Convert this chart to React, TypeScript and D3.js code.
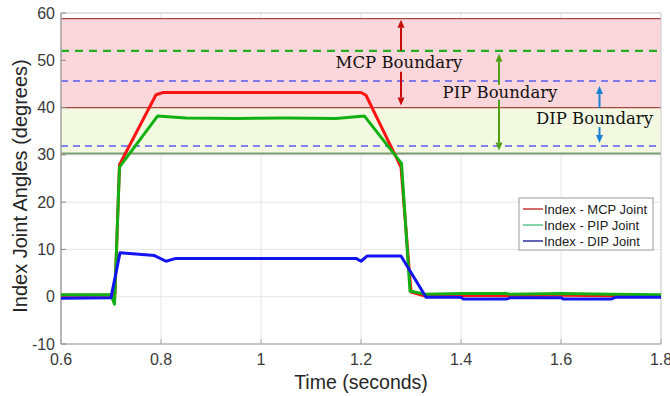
import React from "react";
import * as d3 from "d3";

// series
const mcpTime = [0.6, 0.7, 0.708, 0.717, 0.79, 0.805, 1.0, 1.2, 1.21, 1.28, 1.3, 1.33, 1.4, 1.5, 1.6, 1.7, 1.8];
const mcpAngle = [0.3, 0.3, 0.6, 27.9, 42.7, 43.2, 43.2, 43.2, 42.6, 27.4, 1.0, 0.1, 0.3, 0.2, 0.3, 0.2, 0.2];

const pipTime = [0.6, 0.7, 0.707, 0.717, 0.793, 0.85, 0.95, 1.05, 1.15, 1.207, 1.281, 1.298, 1.33, 1.4, 1.49, 1.5, 1.6, 1.7, 1.8];
const pipAngle = [0.4, 0.4, -1.6, 27.4, 38.2, 37.8, 37.7, 37.8, 37.7, 38.2, 28.2, 1.2, 0.5, 0.7, 0.7, 0.5, 0.7, 0.5, 0.4];

const dipTime = [0.6, 0.7, 0.718, 0.787, 0.81, 0.83, 1.19, 1.2, 1.212, 1.28, 1.33, 1.4, 1.405, 1.49, 1.5, 1.6, 1.605, 1.7, 1.71, 1.8];
const dipAngle = [-0.3, -0.2, 9.3, 8.7, 7.5, 8.1, 8.1, 7.5, 8.6, 8.6, -0.1, -0.1, -0.5, -0.5, -0.2, -0.2, -0.5, -0.5, -0.1, -0.1];

const xTicks = [0.6, 0.8, 1, 1.2, 1.4, 1.6, 1.8];
const yTicks = [-10, 0, 10, 20, 30, 40, 50, 60];

// boundaries [low, high] in degrees
const mcpBoundary = [40, 58.8];
const pipBoundary = [30.3, 52];
const dipBoundary = [31.85, 45.6];
// where the boundary arrows sit (seconds)
const arrowTimes = [1.28, 1.476, 1.677];

const legendNames = ["Index - MCP Joint", "Index - PIP Joint", "Index - DIP Joint"];
const legendColors = ["#c43a3a", "#5cc48c", "#2f2f9a"];

const W = 670;
const H = 396;
const margin = { left: 61, right: 9, top: 13, bottom: 52 };

function Arrow({ x, y1, y2, color }: { x: number; y1: number; y2: number; color: string }) {
  // y1 -> line start, y2 -> tip
  const dir = y2 > y1 ? 1 : -1;
  const head = 8;
  return (
    <g>
      <line x1={x} x2={x} y1={y1} y2={y2 - dir * head} stroke={color} strokeWidth={2} />
      <path
        d={`M${x},${y2} L${x - 3.5},${y2 - dir * head} L${x + 3.5},${y2 - dir * head} Z`}
        fill={color}
      />
    </g>
  );
}

export default function App() {
  const x = d3.scaleLinear().domain([0.6, 1.8]).range([margin.left, W - margin.right]);
  const y = d3.scaleLinear().domain([-10, 60]).range([H - margin.bottom, margin.top]);

  const line = d3
    .line<[number, number]>()
    .x((d) => x(d[0]))
    .y((d) => y(d[1]));

  const series = [
    { t: mcpTime, v: mcpAngle, color: "#ff1414" },
    { t: pipTime, v: pipAngle, color: "#12b012" },
    { t: dipTime, v: dipAngle, color: "#1414f0" },
  ];

  const x0 = x(0.6);
  const x1 = x(1.8);
  const serif = "'DejaVu Serif', serif";
  const sans = "'Liberation Sans', Arial, sans-serif";

  const [ax, bx, cx] = arrowTimes.map((t) => x(t));

  return (
    <svg width={W} height={H} style={{ position: "absolute", left: 0, top: 0, background: "#fff" }}>
      {/* grid */}
      {xTicks.map((t) => (
        <line key={"gx" + t} x1={x(t)} x2={x(t)} y1={y(-10)} y2={y(60)} stroke="#e6e6e6" />
      ))}
      {yTicks.map((t) => (
        <line key={"gy" + t} x1={x0} x2={x1} y1={y(t)} y2={y(t)} stroke="#e6e6e6" />
      ))}

      {/* boundary bands */}
      <rect x={x0} width={x1 - x0} y={y(mcpBoundary[1])} height={y(mcpBoundary[0]) - y(mcpBoundary[1])} fill="#fbd6da" />
      <rect x={x0} width={x1 - x0} y={y(mcpBoundary[0])} height={y(pipBoundary[0]) - y(mcpBoundary[0])} fill="#f3f9e1" />
      <line x1={x0} x2={x1} y1={y(mcpBoundary[1])} y2={y(mcpBoundary[1])} stroke="#a84545" strokeWidth={1.2} />
      <line x1={x0} x2={x1} y1={y(mcpBoundary[0])} y2={y(mcpBoundary[0])} stroke="#a84545" strokeWidth={1.2} />
      <line x1={x0} x2={x1} y1={y(pipBoundary[0])} y2={y(pipBoundary[0])} stroke="#7d9c74" strokeWidth={2} />
      <line x1={x0} x2={x1} y1={y(pipBoundary[1])} y2={y(pipBoundary[1])} stroke="#22b022" strokeWidth={2.2} strokeDasharray="8,6" />
      <line x1={x0} x2={x1} y1={y(dipBoundary[1])} y2={y(dipBoundary[1])} stroke="#5a5cf0" strokeWidth={1.5} strokeDasharray="7,5" />
      <line x1={x0} x2={x1} y1={y(dipBoundary[0])} y2={y(dipBoundary[0])} stroke="#5a5cf0" strokeWidth={1.5} strokeDasharray="7,5" />

      {/* axes box */}
      <rect x={x0} y={y(60)} width={x1 - x0} height={y(-10) - y(60)} fill="none" stroke="#d0d0d0" />
      <line x1={x0} x2={x0} y1={y(60)} y2={y(-10)} stroke="#8c8c8c" />
      <line x1={x0} x2={x1} y1={y(-10)} y2={y(-10)} stroke="#a8a8a8" />
      {yTicks.map((t) => (
        <line key={"ty" + t} x1={x0} x2={x0 + 5} y1={y(t)} y2={y(t)} stroke="#8c8c8c" />
      ))}
      {xTicks.map((t) => (
        <line key={"tx" + t} x1={x(t)} x2={x(t)} y1={y(-10)} y2={y(-10) - 5} stroke="#a8a8a8" />
      ))}

      {/* data */}
      {series.map((s, i) => (
        <path
          key={i}
          d={line(s.t.map((t, j) => [t, s.v[j]] as [number, number])) || ""}
          fill="none"
          stroke={s.color}
          strokeWidth={3}
          strokeLinejoin="round"
        />
      ))}

      {/* boundary arrows and labels */}
      <Arrow x={ax} y1={y(mcpBoundary[1]) + 32} y2={y(mcpBoundary[1]) + 1} color="#c80c0c" />
      <Arrow x={ax} y1={y(mcpBoundary[1]) + 53} y2={y(mcpBoundary[0]) - 2} color="#c80c0c" />
      <text x={ax - 2} y={68} textAnchor="middle" fontFamily={serif} fontSize={16.5} fill="#111">
        MCP Boundary
      </text>
      <Arrow x={bx} y1={y(pipBoundary[1]) + 34} y2={y(pipBoundary[1]) + 3} color="#4fa014" />
      <Arrow x={bx} y1={y(pipBoundary[1]) + 49} y2={y(pipBoundary[0]) - 3} color="#4fa014" />
      <text x={bx + 1} y={98} textAnchor="middle" fontFamily={serif} fontSize={16.5} fill="#111">
        PIP Boundary
      </text>
      <Arrow x={cx} y1={y(dipBoundary[1]) + 27} y2={y(dipBoundary[1]) + 5} color="#1a80d2" />
      <Arrow x={cx} y1={y(dipBoundary[0]) - 19} y2={y(dipBoundary[0]) - 3} color="#1a80d2" />
      <text x={cx - 5} y={124} textAnchor="middle" fontFamily={serif} fontSize={16.5} fill="#111">
        DIP Boundary
      </text>

      {/* tick labels */}
      {yTicks.map((t) => (
        <text key={"ly" + t} x={x0 - 6} y={y(t) + 5.5} textAnchor="end" fontFamily={sans} fontSize={16} fill="#3a3a3a">
          {t}
        </text>
      ))}
      {xTicks.map((t) => (
        <text key={"lx" + t} x={x(t)} y={365} textAnchor="middle" fontFamily={sans} fontSize={16} fill="#3a3a3a">
          {d3.format("~g")(t)}
        </text>
      ))}

      {/* axis titles */}
      <text x={361} y={389} textAnchor="middle" fontFamily={sans} fontSize={19.5} fill="#262626">
        Time (seconds)
      </text>
      <text
        transform={`translate(27,${186}) rotate(-90)`}
        textAnchor="middle"
        fontFamily={sans}
        fontSize={20}
        fill="#262626"
      >
        Index Joint Angles (degrees)
      </text>

      {/* legend */}
      <g transform="translate(519,198)">
        <rect width={134} height={52} fill="#fff" stroke="#9a9a9a" />
        {legendNames.map((n, i) => (
          <g key={n} transform={`translate(0,${11 + i * 16})`}>
            <line x1={4} x2={24} y1={0} y2={0} stroke={legendColors[i]} strokeWidth={1.5} />
            <text x={25} y={4.5} fontFamily={sans} fontSize={13} fill="#222">
              {n}
            </text>
          </g>
        ))}
      </g>
    </svg>
  );
}
